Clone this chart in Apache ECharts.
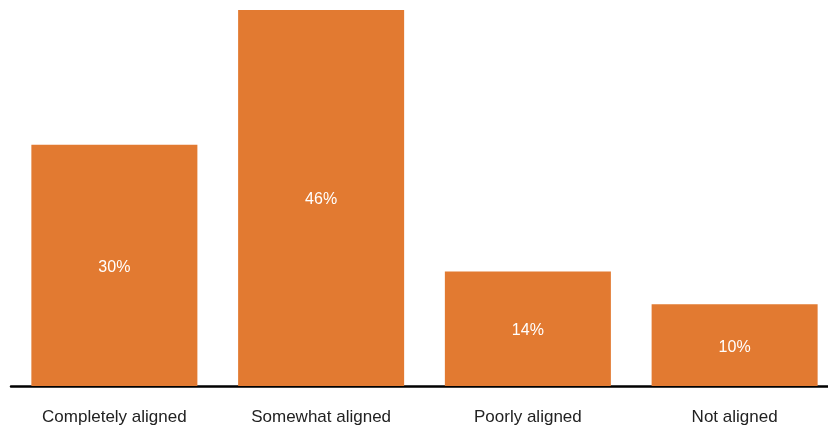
<!DOCTYPE html>
<html><head><meta charset="utf-8">
<script src="https://cdn.jsdelivr.net/npm/echarts@6/dist/echarts.min.js"></script>
<style>html,body{margin:0;padding:0;background:#fff;overflow:hidden;width:828px;height:428px}#c{width:840px;height:428px}</style>
</head><body><div id="c"></div>
<script>
const categories = ['Completely aligned', 'Somewhat aligned', 'Poorly aligned', 'Not aligned'];
const values = [29.5, 46, 14, 10];
const chart = echarts.init(document.getElementById('c'), null, {renderer: 'canvas'});
chart.setOption({
  animation: false,
  grid: {left: 11, width: 827, top: 10, height: 376, containLabel: false},
  xAxis: {
    type: 'category', data: categories,
    axisLine: {lineStyle: {color: '#000', width: 2.5}},
    axisTick: {show: false},
    axisLabel: {color: '#222', fontSize: 17, fontFamily: 'Liberation Sans, Arial, sans-serif', margin: 23}
  },
  yAxis: {type: 'value', min: 0, max: 46, show: false, splitLine: {show: false}},
  series: [{
    type: 'bar', data: values, barCategoryGap: '19.7%',
    itemStyle: {color: '#E27A31'},
    label: {show: true, position: 'inside', color: '#fff', fontSize: 16,
      offset: [0, 2],
      fontFamily: 'Liberation Sans, Arial, sans-serif',
      formatter: p => Math.round(p.value) + '%'}
  }]
});
</script></body></html>
